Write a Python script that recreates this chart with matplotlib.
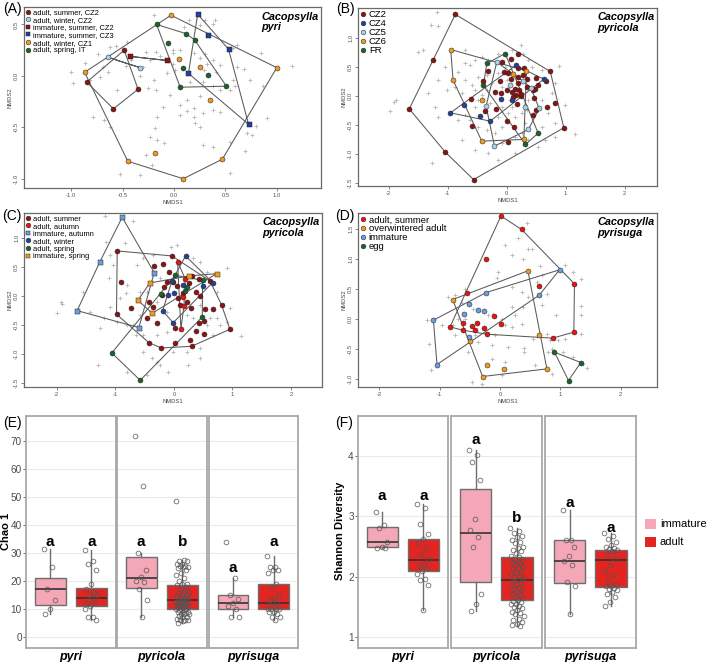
import numpy as np
import matplotlib
matplotlib.use('Agg')
import matplotlib.pyplot as plt
from matplotlib.lines import Line2D
from matplotlib.patches import Patch

plt.rcParams['font.family'] = ['Liberation Sans', 'DejaVu Sans']

# ---------------- NMDS data ----------------
# panel A - C. pyri
a_adult_summer_cz2 = [(-0.485, 0.25), (-0.85, -0.06), (-0.35, -0.13), (-0.59, -0.32)]
a_adult_winter_cz2 = [(-0.64, 0.18), (-0.33, 0.08)]
a_imm_summer_cz2 = [(-0.43, 0.19), (-0.07, 0.15)]
a_imm_summer_cz3 = [(0.23, 0.60), (0.33, 0.40), (0.53, 0.26), (0.14, 0.025), (0.725, -0.47)]
a_adult_winter_cz1 = [(-0.03, 0.59), (-0.87, 0.035), (0.05, 0.16), (0.25, 0.09), (1.0, 0.08),
                      (0.35, -0.23), (-0.19, -0.75), (-0.45, -0.83), (0.09, -1.0), (0.47, -0.81)]
a_adult_spring_it = [(-0.17, 0.50), (0.12, 0.41), (-0.06, 0.32), (0.2, 0.35), (0.09, 0.08),
                     (0.33, 0.005), (0.06, -0.11), (0.51, -0.10)]
a_other = [(-1.0, 0.04), (-0.98, -0.07), (-0.87, 0.13), (-0.74, 0.21), (-0.62, 0.28), (-0.56, 0.29),
           (-0.46, 0.33), (-0.69, 0.09), (-0.64, 0.04), (-0.72, -0.01), (-0.82, -0.04), (-0.47, 0.10),
           (-0.42, 0.15), (-0.275, 0.23), (-0.18, 0.235), (-0.23, 0.15), (-0.136, 0.19), (-0.194, -0.04),
           (-0.25, -0.12), (-0.175, -0.137), (-0.30, 0.09), (-0.336, 0.0), (-0.006, 0.22), (-0.013, 0.25),
           (-0.006, 0.12), (0.01, 0.06), (-0.07, 0.025), (0.06, 0.25), (0.19, 0.22), (0.25, 0.17),
           (0.30, 0.21), (0.32, 0.12), (0.29, 0.06), (0.38, 0.15), (0.45, 0.11), (0.41, 0.04),
           (0.156, -0.056), (0.285, -0.062), (0.38, -0.10), (0.45, -0.137), (0.54, -0.137), (0.59, -0.10),
           (0.576, -0.04), (0.738, -0.04), (0.608, 0.30), (0.576, 0.268), (0.608, 0.09), (0.68, 0.07),
           (0.85, 0.22), (1.15, 0.10), (0.87, -0.10), (0.90, -0.41), (0.80, -0.49), (0.706, -0.557),
           (0.755, -0.57), (0.69, -0.735), (0.544, -0.64), (0.544, -0.946), (0.38, -0.687), (0.28, -0.674),
           (0.253, -0.493), (0.204, -0.46), (0.19, -0.40), (0.13, -0.34), (0.06, -0.28), (0.06, -0.38),
           (0.19, -0.315), (0.253, -0.20), (0.38, -0.33), (0.45, -0.347), (0.285, -0.36), (0.123, -0.234),
           (-0.039, -0.185), (-0.103, -0.30), (-0.168, -0.40), (-0.184, -0.51), (-0.233, -0.59),
           (-0.168, -0.62), (-0.093, -0.655), (-0.27, -0.77), (-0.216, -0.865), (-0.524, -0.95),
           (-0.556, -0.137), (-0.79, -0.40), (-0.62, -0.50), (-0.686, -0.428), (-0.33, -0.96),
           (-0.194, 0.59), (0.149, 0.543), (0.40, 0.543), (0.38, 0.50), (0.253, 0.494), (0.10, 0.478),
           (0.30, 0.543)]

# panel B - C. pyricola by site
b_cz2 = [(-0.87, 1.41), (-1.24, 0.62), (-1.65, -0.22), (-1.04, -0.965), (-0.56, -1.44), (0.97, -0.546),
         (0.82, -0.12), (0.74, 0.425), (0.676, 0.26), (0.50, 0.31), (0.53, 0.20), (0.484, 0.115),
         (0.46, -0.04), (0.444, -0.33), (0.50, -0.24), (0.68, -0.196), (0.20, 0.72), (0.07, 0.632),
         (-0.082, 0.586), (0.031, 0.40), (-0.042, 0.408), (-0.32, 0.437), (-0.393, 0.258), (-0.116, 0.258),
         (-0.195, 0.075), (-0.093, 0.057), (0.003, 0.103), (0.088, 0.069), (0.144, 0.126), (0.19, 0.218),
         (0.212, 0.103), (0.167, 0.023), (0.246, 0.006), (0.19, 0.322), (0.275, 0.368), (0.303, 0.483),
         (0.20, 0.483), (0.348, 0.287), (0.077, 0.287), (0.105, -0.017), (0.172, -0.144), (-0.178, -0.218),
         (-0.365, -0.264), (-0.60, -0.046), (-0.59, -0.517), (0.003, -0.431), (0.128, -0.535),
         (0.02, -0.787), (0.24, 0.029), (0.342, 0.16), (0.455, 0.103)]
b_cz4 = [(-0.953, -0.288), (-0.716, -0.161), (-0.444, -0.345), (-0.28, -0.431), (-0.099, -0.058),
         (0.099, -0.069), (0.156, 0.529), (0.631, 0.293)]
b_cz5 = [(-0.167, 0.586), (0.065, 0.195), (0.286, 0.253), (0.41, 0.143), (0.314, -0.19),
         (0.552, -0.213), (0.37, -0.575), (-0.206, -0.862), (-0.348, -0.172)]
b_cz6 = [(-0.948, 0.804), (-0.908, 0.276), (-0.421, -0.069), (-0.421, -0.776), (0.105, 0.379),
         (0.337, 0.437), (0.292, -0.747)]
b_fr = [(-0.025, 0.735), (-0.337, 0.563), (-0.393, 0.184), (0.535, -0.638), (0.32, -0.833)]
b_other = [(-1.185, 1.454), (-0.897, 1.414), (-1.282, 1.224), (-1.157, 1.207), (-1.497, 0.764),
           (-1.423, 0.793), (-1.882, -0.069), (-1.91, -0.109), (-1.983, -0.259), (-1.214, -0.184),
           (-1.157, -0.356), (-1.259, -1.161), (1.163, -0.661), (0.993, -0.155), (0.892, 0.517),
           (0.246, 0.879), (0.286, 0.735), (-0.704, 0.793), (-0.535, 0.62), (-0.62, 0.534), (-0.818, 0.419),
           (-0.704, 0.276), (-0.874, 0.161), (-1.016, 0.103), (-0.761, 0.046), (-0.591, 0.19),
           (-0.478, 0.333), (-0.337, 0.362), (-0.252, 0.218), (-0.535, 0.103), (-0.421, 0.017),
           (-0.28, -0.127), (-0.535, -0.184), (-0.704, -0.328), (-0.818, -0.414), (-0.62, -0.414),
           (-0.478, -0.529), (-0.337, -0.586), (-0.195, -0.644), (-0.082, -0.529), (-0.139, -0.356),
           (0.031, -0.299), (0.144, -0.356), (0.258, -0.299), (0.314, -0.471), (0.258, -0.644),
           (0.144, -0.701), (-0.082, -0.816), (-0.308, -0.989), (-0.535, -0.931), (-0.761, -0.759),
           (0.371, -0.759), (0.654, -0.759), (0.824, -0.701), (0.597, -0.529), (0.71, -0.299),
           (0.597, -0.069), (0.767, 0.046), (0.824, 0.218), (0.597, 0.448), (0.427, 0.506), (0.371, 0.62),
           (0.088, 0.793), (-0.139, 0.735), (-0.308, 0.62), (-0.421, 0.678), (-0.025, 0.506),
           (-0.139, 0.391), (0.003, 0.276), (0.371, -0.069), (0.342, -0.241), (0.088, -0.184),
           (-0.082, -0.184), (-0.337, 0.103), (-0.478, -0.069), (-0.082, 0.161), (0.06, -0.069),
           (-0.704, 0.563), (-1.044, 0.506), (-1.157, 0.276), (-1.327, 0.046), (-0.139, -1.103),
           (0.144, -0.989), (0.54, -0.874), (0.824, -0.471)]

# panel C - C. pyricola by stage/season
c_adult_summer = [(-0.968, 0.776), (-0.034, 0.69), (-0.342, 0.523), (-0.182, 0.546), (-0.911, 0.247),
                  (-0.98, -0.316), (-0.735, -0.201), (-0.427, -0.104), (-0.467, -0.385), (-0.364, -0.196),
                  (-0.296, -0.46), (-0.427, -0.805), (-0.216, -0.897), (0.012, -0.805), (0.017, -0.558),
                  (0.274, -0.764), (0.302, -0.868), (0.376, -0.609), (0.433, -0.46), (0.513, -0.425),
                  (0.53, -0.23), (0.673, -0.23), (0.815, -0.155), (0.958, -0.575), (0.519, -0.661),
                  (0.285, -0.213), (0.217, -0.109), (0.074, -0.04), (-0.08, 0.408), (-0.165, 0.149),
                  (-0.125, 0.236), (0.052, 0.172), (0.149, 0.046), (0.262, 0.218), (0.302, 0.345),
                  (0.422, 0.293), (0.376, 0.075), (0.445, 0.006), (0.616, 0.259), (-0.199, 0.017),
                  (0.103, -0.155), (-0.011, 0.247)]
c_adult_autumn = [(0.063, 0.592), (0.194, 0.293), (0.149, -0.012), (0.171, -0.178), (0.12, -0.569)]
c_imm_autumn = [(-0.883, 1.356), (-1.265, 0.586), (-0.336, 0.402), (-1.652, -0.253), (-0.598, -0.546)]
c_adult_winter = [(0.20, 0.69), (-0.034, 0.259), (-0.097, 0.017), (-0.005, 0.052), (0.149, 0.19),
                  (0.502, 0.172), (0.661, 0.23), (-0.193, -0.259), (-0.011, -0.46)]
c_adult_spring = [(-1.06, -0.983), (-0.575, -1.454), (-0.216, 0.034), (0.023, 0.356), (0.217, 0.161),
                  (0.194, 0.092), (0.485, -0.362), (0.49, 0.27)]
c_imm_spring = [(-0.41, 0.224), (-0.615, -0.075), (-0.37, -0.299), (0.262, 0.345), (0.73, 0.385)]
c_other = [(-1.994, -0.299), (-1.92, -0.109), (-1.903, -0.144), (-1.293, -1.19), (-1.162, 0.937),
           (-1.105, 0.304), (-0.837, 0.908), (-0.638, 0.534), (-0.809, 0.189), (-0.82, 0.046),
           (-0.923, -0.029), (-1.094, -0.19), (-1.196, -0.385), (-0.98, -0.443), (-0.809, -0.5),
           (-0.695, -0.5), (-0.581, -0.328), (-0.649, -0.672), (-0.524, -0.96), (-0.381, -1.075),
           (-0.239, -1.19), (-0.051, 0.85), (0.046, 0.879), (0.217, 0.707), (0.331, 0.649), (0.445, 0.592),
           (0.559, 0.419), (0.73, 0.075), (0.901, 0.477), (0.958, -0.213), (1.146, -0.684), (0.787, -0.5),
           (0.673, -0.672), (0.445, -0.902), (0.217, -0.96), (-0.011, -0.96), (-0.296, -1.132),
           (-0.524, -0.672), (-0.296, -0.672), (-0.125, -0.615), (-0.125, -0.27), (-0.296, -0.098),
           (-0.467, 0.075), (-0.581, 0.075), (-0.524, 0.649), (-0.353, 0.707), (-0.239, 0.304),
           (0.217, -0.328), (0.331, -0.385), (0.616, -0.385), (0.73, -0.385), (0.445, -0.155),
           (-0.809, -1.305), (-1.265, -0.558), (-1.436, -0.27), (-1.55, 0.075), (-1.037, 0.534),
           (-1.094, 0.707), (0.245, -1.19), (-0.097, -1.305), (-0.467, -1.362), (0.445, -1.075),
           (0.559, -0.5), (0.901, -0.443), (-1.18, 1.38), (-0.7, 1.3)]

# panel D - C. pyrisuga
d_adult_summer = [(0.017, 1.72), (0.358, 1.495), (-0.232, 1.011), (-0.551, 0.439), (-0.827, -0.128),
                  (-0.606, -0.055), (-0.617, -0.183), (-0.468, -0.116), (-0.414, -0.183), (-0.386, -0.055),
                  (-0.265, -0.144), (-0.21, -0.25), (-0.099, 0.061), (0.011, -0.083), (0.644, 0.55),
                  (1.234, 0.589), (1.223, -0.216), (0.87, -0.316)]
d_overwintered = [(0.463, 0.806), (-0.783, 0.328), (-0.496, -0.361), (0.65, -0.266), (-0.21, -0.766),
                  (0.066, -0.828), (-0.287, -0.955), (0.777, -0.828)]
d_immature = [(0.986, 0.823), (-0.226, 0.445), (-0.518, 0.25), (-0.59, 0.084), (-0.358, 0.15),
              (-0.27, 0.139), (-1.102, -0.016), (-0.507, -0.289), (-1.042, -0.755), (0.65, 0.4)]
d_egg = [(0.903, -0.55), (1.339, -0.722), (1.135, -1.022)]
d_other = [(0.082, 1.234), (0.468, 1.178), (0.534, 1.178), (0.193, 1.067), (0.385, 1.011), (0.661, 0.889),
           (0.688, 0.734), (0.606, 0.623), (-0.028, 0.789), (-0.055, 0.689), (0.193, 0.539), (0.358, 0.456),
           (0.468, 0.373), (0.771, 0.428), (1.074, 0.911), (1.212, 0.789), (1.35, 0.667), (1.35, 0.217),
           (1.35, 0.078), (1.35, -0.239), (0.936, 0.067), (0.688, 0.234), (0.385, 0.206), (0.193, 0.206),
           (0.248, 0.067), (0.358, -0.072), (0.193, -0.128), (0.027, 0.011), (-0.11, 0.095), (-0.193, 0.067),
           (-0.579, 0.511), (-0.744, 0.4), (-0.854, 0.373), (-0.634, 0.278), (-0.441, 0.178), (-0.579, 0.011),
           (-0.689, 0.011), (-0.772, -0.1), (-0.964, -0.1), (-1.212, -0.016), (-1.174, -0.416),
           (-0.524, -0.544), (-0.358, -0.378), (-0.138, -0.433), (0.137, -0.461), (0.402, -0.472),
           (0.402, -0.544), (0.551, -0.322), (0.826, -0.339), (0.964, -0.35), (0.854, -0.489),
           (0.799, -0.544), (1.047, -0.544), (1.212, -0.628), (1.443, -0.811), (1.377, -0.739),
           (-1.141, -0.839), (-0.469, -1.044), (-0.304, -1.072), (0.027, -0.933), (0.854, -0.916),
           (0.578, -0.766), (0.082, -0.711), (-0.138, -0.656), (-0.744, -0.266), (-0.413, -0.266),
           (-0.083, -0.266), (0.082, -0.1), (0.771, -0.239), (1.074, -0.322), (0.45, 1.6), (0.3, 1.35)]

# ---------------- diversity data ----------------
species = ['pyri', 'pyricola', 'pyrisuga']
stages = ['immature', 'adult']

# Chao 1 : box stats per [species][stage]  (whislo, q1, med, q3, whishi)
chao_stats = [[(8, 11.5, 17, 21, 31.5), (6, 11, 14, 17.5, 31)],
              [(7, 17.5, 21, 28.5, 30), (5, 10, 13, 18.5, 27.5)],
              [(7, 10, 12, 15, 21), (6, 10, 12, 19, 29)]]
chao_points = [[[31.5, 25, 17, 13, 10, 8],
                [31, 27, 26, 24, 19, 17, 16, 15, 15, 14, 12, 12, 11, 10, 7, 7, 6]],
               [[72, 54, 30, 24, 21.5, 20, 19.5, 17, 13, 7],
                [48.5, 27.5, 27, 27, 26, 26, 25.5, 25.5, 25, 25, 24.5, 24, 23, 22, 21, 20, 19, 19, 18.5, 18,
                 17, 16, 16, 15.5, 15, 15, 14.5, 14, 14, 13.5, 13, 13, 13, 12.5, 12.5, 12, 12, 12, 11.5, 11.5,
                 11, 11, 11, 10.5, 10.5, 10, 10, 10, 10, 9.5, 9, 9, 9, 8.5, 8, 8, 8, 7.5, 7, 7, 6.5, 6, 6, 6,
                 5.5, 5]],
               [[34, 21, 15, 13.5, 12, 11, 10, 7, 7],
                [29, 25, 25, 24, 24, 23, 19, 18, 15, 14, 13, 12, 12, 10, 10, 10, 10, 9, 9, 8, 7, 7, 6]]]
chao_letters = [[('a', 34), ('a', 34)], [('a', 34), ('b', 34)], [('a', 24.5), ('a', 34)]]

# Shannon diversity
shan_stats = [[(2.47, 2.5, 2.57, 2.83, 3.07), (1.45, 2.1, 2.28, 2.62, 3.2)],
              [(1.43, 1.92, 2.72, 3.45, 4.1), (1.18, 1.62, 1.95, 2.32, 2.8)],
              [(1.38, 1.9, 2.26, 2.6, 3.1), (1.52, 1.83, 2.27, 2.45, 2.72)]]
shan_points = [[[3.07, 2.85, 2.8, 2.57, 2.5, 2.47, 2.48],
                [3.2, 3.13, 2.88, 2.7, 2.62, 2.55, 2.48, 2.38, 2.3, 2.2, 2.18, 2.15, 2.1, 2.05, 1.97, 1.95,
                 1.86, 1.45]],
               [[4.1, 4.02, 3.9, 3.6, 2.95, 2.78, 2.65, 2.5, 1.72, 1.55, 1.43],
                [2.8, 2.75, 2.72, 2.68, 2.65, 2.6, 2.58, 2.55, 2.5, 2.48, 2.45, 2.42, 2.4, 2.35, 2.32, 2.3,
                 2.28, 2.25, 2.25, 2.22, 2.2, 2.18, 2.15, 2.12, 2.1, 2.08, 2.05, 2.02, 2.0, 1.98, 1.95, 1.93,
                 1.9, 1.88, 1.85, 1.82, 1.8, 1.78, 1.75, 1.72, 1.7, 1.68, 1.65, 1.62, 1.6, 1.58, 1.55, 1.55,
                 1.52, 1.5, 1.48, 1.45, 1.42, 1.4, 1.38, 1.35, 1.3, 1.28, 1.25, 1.22, 1.2, 1.18]],
               [[3.1, 2.6, 2.6, 2.5, 2.35, 2.26, 2.2, 1.92, 1.85, 1.38],
                [2.72, 2.68, 2.62, 2.58, 2.52, 2.5, 2.48, 2.46, 2.45, 2.42, 2.38, 2.3, 2.2, 2.1, 2.05, 1.95,
                 1.88, 1.85, 1.84, 1.82, 1.8, 1.78, 1.75, 1.72, 1.66, 1.58, 1.52]]]
shan_letters = [[('a', 3.34), ('a', 3.34)], [('a', 4.27), ('b', 2.97)], [('a', 3.22), ('a', 2.81)]]

DARKRED = '#8E1212'
LIGHTBLUE = '#A9D3E8'
BLUE = '#24409C'
ORANGE = '#F39A1E'
GREEN = '#17652C'
RED = '#F01010'
SKY = '#6C9FDA'
PINK = '#F4A7B6'
ADULT_RED = '#E32420'


def convex_hull(pts):
    pts = sorted(set(pts))
    if len(pts) < 3:
        return pts

    def cross(o, a, b):
        return (a[0] - o[0]) * (b[1] - o[1]) - (a[1] - o[1]) * (b[0] - o[0])

    lower, upper = [], []
    for p in pts:
        while len(lower) >= 2 and cross(lower[-2], lower[-1], p) <= 0:
            lower.pop()
        lower.append(p)
    for p in reversed(pts):
        while len(upper) >= 2 and cross(upper[-2], upper[-1], p) <= 0:
            upper.pop()
        upper.append(p)
    return lower[:-1] + upper[:-1]


def nmds_panel(ax, others, groups, xlim, ylim, xticks, yticks, fmt, title, leg_size, leg_space):
    ox, oy = zip(*others)
    ax.plot(ox, oy, '+', color='#B5B5B5', ms=3.2, mew=0.6, zorder=1)
    for label, pts, col, mk in groups:
        h = convex_hull(pts)
        if len(h) > 1:
            h = h + [h[0]]
            hx, hy = zip(*h)
            ax.plot(hx, hy, color='#5A5A5A', lw=0.75, zorder=2)
    for label, pts, col, mk in groups:
        px, py = zip(*pts)
        ax.plot(px, py, mk, ls='none', mfc=col, mec='#222222', mew=0.35, ms=3.6, zorder=3)
    handles = [Line2D([], [], marker=mk, ls='none', mfc=col, mec='#222222', mew=0.35, ms=3.4)
               for label, pts, col, mk in groups]
    ax.legend(handles, [g[0] for g in groups], loc='upper left', frameon=False, fontsize=leg_size,
              handlelength=0.6, handletextpad=0.3, borderaxespad=0.1, borderpad=0.15,
              labelspacing=leg_space)
    ax.text(0.80, 0.975, 'Cacopsylla\n' + title, transform=ax.transAxes, ha='left', va='top',
            fontsize=7.8, fontweight='bold', style='italic', linespacing=1.05)
    ax.set_xlim(xlim)
    ax.set_ylim(ylim)
    ax.set_xticks(xticks)
    ax.set_xticklabels([fmt.format(t) for t in xticks])
    ax.set_yticks(yticks)
    ax.set_yticklabels([fmt.format(t) for t in yticks], rotation=90, va='center')
    ax.tick_params(length=2, width=0.5, colors='#555555', labelsize=4.2, pad=1.5)
    for sp in ax.spines.values():
        sp.set_color('#6A6A6A')
        sp.set_linewidth(0.9)
    ax.set_xlabel('NMDS1', fontsize=4.2, labelpad=1.5, color='#444444')
    ax.set_ylabel('NMDS2', fontsize=4.2, labelpad=1.5, color='#444444')


def jitter(n):
    return ((np.arange(n) * 0.618034) % 1 - 0.5) * 0.32


def box_facet(ax, stats, points, letters, name, yticks, ylim, show_y):
    bstats = []
    for st in stats:
        lo, q1, med, q3, hi = st
        bstats.append(dict(whislo=lo, q1=q1, med=med, q3=q3, whishi=hi))
    bp = ax.bxp(bstats, positions=[1, 2], widths=0.75, patch_artist=True, showfliers=False,
                showcaps=False,
                boxprops=dict(edgecolor='#6E6E6E', linewidth=1.0),
                whiskerprops=dict(color='#6E6E6E', linewidth=1.0),
                medianprops=dict(color='#333333', linewidth=1.2))
    for patch, col in zip(bp['boxes'], [PINK, ADULT_RED]):
        patch.set_facecolor(col)
    for i, vals in enumerate(points):
        vals = np.array(vals)
        ax.plot(1 + i + jitter(len(vals)), vals, 'o', ls='none', mfc='none', mec='#555555',
                mew=0.6, ms=3.4, alpha=0.85, zorder=4)
    for i, (lt, y) in enumerate(letters):
        ax.text(1 + i, y, lt, ha='center', va='center', fontsize=11, fontweight='bold')
    ax.set_xlim(0.41, 2.6)
    ax.set_ylim(ylim)
    ax.set_yticks(yticks)
    ax.yaxis.grid(True, color='#EBEBEB', lw=0.8)
    ax.set_axisbelow(True)
    ax.set_xticks([1.5])
    ax.set_xticklabels([name], fontsize=9, fontweight='bold', style='italic')
    ax.tick_params(axis='x', length=0, pad=2)
    ax.tick_params(axis='y', length=2, width=0.6, colors='#4D4D4D', labelsize=7.2, pad=1)
    ax.tick_params(axis='x', labelcolor='black')
    if not show_y:
        ax.tick_params(axis='y', left=False, labelleft=False)
    for sp in ax.spines.values():
        sp.set_color('#A8A8A8')
        sp.set_linewidth(1.3)


fig = plt.figure(figsize=(7.09, 6.62), dpi=100)
W, H = 709.0, 662.0


def add_axes(x0, x1, y0, y1):
    return fig.add_axes([x0 / W, 1 - y1 / H, (x1 - x0) / W, (y1 - y0) / H])


axA = add_axes(24, 321, 7, 188)
nmds_panel(axA, a_other,
           [('adult, summer, CZ2', a_adult_summer_cz2, DARKRED, 'o'),
            ('adult, winter, CZ2', a_adult_winter_cz2, LIGHTBLUE, 'o'),
            ('immature, summer, CZ2', a_imm_summer_cz2, DARKRED, 's'),
            ('immature, summer, CZ3', a_imm_summer_cz3, BLUE, 's'),
            ('adult, winter, CZ1', a_adult_winter_cz1, ORANGE, 'o'),
            ('adult, spring, IT', a_adult_spring_it, GREEN, 'o')],
           (-1.46, 1.43), (-1.09, 0.67), [-1, -0.5, 0, 0.5, 1], [-1, -0.5, 0, 0.5], '{:.1f}', 'pyri',
           5.4, 0.05)

axB = add_axes(358, 657, 8, 186)
nmds_panel(axB, b_other,
           [('CZ2', b_cz2, DARKRED, 'o'), ('CZ4', b_cz4, BLUE, 'o'), ('CZ5', b_cz5, LIGHTBLUE, 'o'),
            ('CZ6', b_cz6, ORANGE, 'o'), ('FR', b_fr, GREEN, 'o')],
           (-2.52, 2.55), (-1.55, 1.52), [-2, -1, 0, 1, 2], [-1.5, -1, -0.5, 0, 0.5, 1], '{:g}',
           'pyricola', 6.8, 0.0)
axB.set_yticklabels(['-1.5', '-1.0', '-0.5', '0.0', '0.5', '1.0'], rotation=90, va='center')

axC = add_axes(24, 322, 213, 387)
nmds_panel(axC, c_other,
           [('adult, summer', c_adult_summer, DARKRED, 'o'),
            ('adult, autumn', c_adult_autumn, RED, 'o'),
            ('immature, autumn', c_imm_autumn, SKY, 's'),
            ('adult, winter', c_adult_winter, BLUE, 'o'),
            ('adult, spring', c_adult_spring, GREEN, 'o'),
            ('immature, spring', c_imm_spring, ORANGE, 's')],
           (-2.56, 2.53), (-1.57, 1.43), [-2, -1, 0, 1, 2], [-1.5, -1, -0.5, 0, 0.5, 1], '{:g}',
           'pyricola', 5.4, 0.05)
axC.set_yticklabels(['-1.5', '-1.0', '-0.5', '0.0', '0.5', '1.0'], rotation=90, va='center')

axD = add_axes(358, 657, 213, 387)
nmds_panel(axD, d_other,
           [('adult, summer', d_adult_summer, RED, 'o'),
            ('overwintered adult', d_overwintered, ORANGE, 'o'),
            ('immature', d_immature, SKY, 'o'),
            ('egg', d_egg, GREEN, 'o')],
           (-2.35, 2.6), (-1.13, 1.77), [-2, -1, 0, 1, 2], [-1, -0.5, 0, 0.5, 1, 1.5], '{:g}',
           'pyrisuga', 6.8, 0.0)
axD.set_yticklabels(['-1.0', '-0.5', '0.0', '0.5', '1.0', '1.5'], rotation=90, va='center')

# E : Chao 1
e_lefts = [(26, 116), (117, 207), (209, 298)]
for k, (x0, x1) in enumerate(e_lefts):
    ax = add_axes(x0, x1, 416, 648)
    box_facet(ax, chao_stats[k], chao_points[k], chao_letters[k], species[k],
              np.arange(0, 80, 10), (-4, 79), k == 0)

# F : Shannon
f_lefts = [(358, 448), (451, 542), (545, 636)]
for k, (x0, x1) in enumerate(f_lefts):
    ax = add_axes(x0, x1, 416, 648)
    box_facet(ax, shan_stats[k], shan_points[k], shan_letters[k], species[k],
              [1, 2, 3, 4], (0.82, 4.66), k == 0)

fig.text(6 / W, 1 - 531 / H, 'Chao 1', rotation=90, ha='center', va='center', fontsize=8,
         fontweight='bold')
fig.text(340 / W, 1 - 531 / H, 'Shannon Diversity', rotation=90, ha='center', va='center',
         fontsize=8, fontweight='bold')

handles = [Patch(facecolor=PINK, edgecolor='none'), Patch(facecolor=ADULT_RED, edgecolor='none')]
fig.legend(handles, stages, loc='center left', bbox_to_anchor=(637 / W, 1 - 533 / H), frameon=False,
           fontsize=8, handlelength=1.0, handleheight=1.0, handletextpad=0.35, labelspacing=0.65,
           borderpad=0.2)

for lab, x, y in [('(A)', 12, 9), ('(B)', 345, 9), ('(C)', 12, 216), ('(D)', 345, 216),
                  ('(E)', 12, 423), ('(F)', 344, 423)]:
    fig.text(x / W, 1 - y / H, lab, ha='center', va='center', fontsize=10)

fig.savefig('out.png', dpi=100)
